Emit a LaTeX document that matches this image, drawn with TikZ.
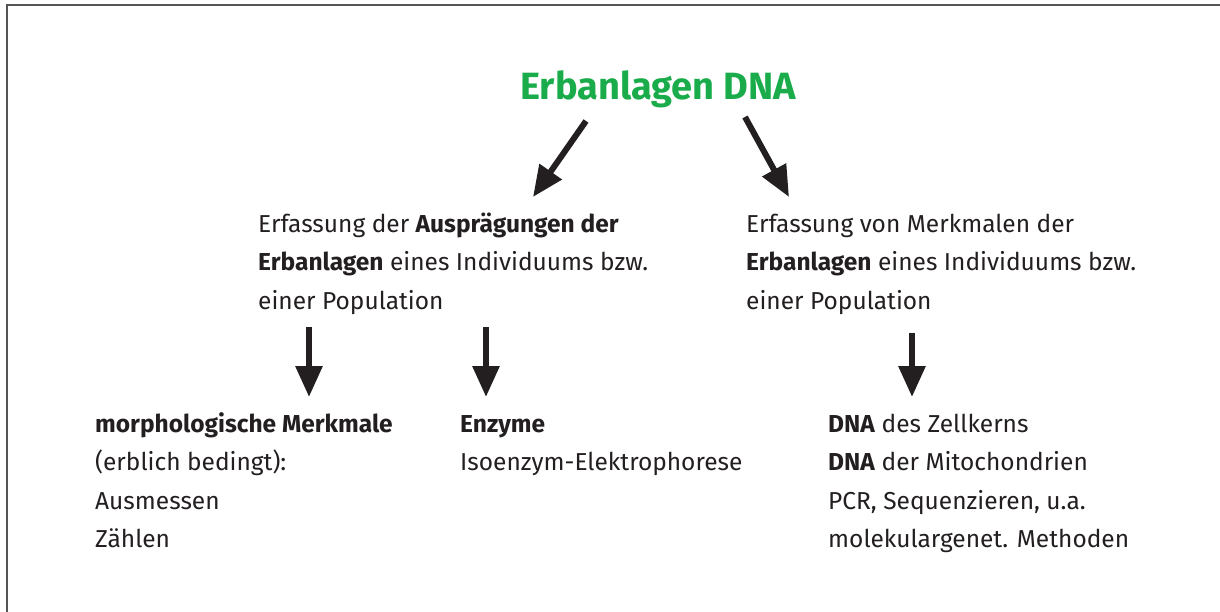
\documentclass[tikz,border=0pt]{standalone}
\usepackage{fontspec}
\setmainfont{Fira Sans}
\usetikzlibrary{arrows.meta}
\definecolor{ink}{HTML}{231F20}
\definecolor{dnagreen}{RGB}{26,172,75}
\definecolor{frame}{HTML}{555555}
\begin{document}
\begin{tikzpicture}[x=1pt,y=-1pt,
  txt/.style={anchor=base west,inner sep=0pt,align=left,text=ink,
    font=\fontsize{24.5}{38.6}\selectfont},
  bigarrow/.style={draw=ink,line width=6pt,-{Triangle[length=31pt,width=26pt]}}]
\useasboundingbox (0,0) rectangle (1220,612);
\draw[frame,line width=2.2pt] (7,612) -- (7,5) -- (1220,5);
\node[anchor=base west,inner sep=0pt,text=dnagreen,font=\fontsize{38}{46}\selectfont\bfseries] (title) at (520,100) {Erbanlagen DNA};
% multi-line nodes: base anchor is the baseline of the last line
\node[txt] (midL) at (258,309.2) {Erfassung der \textbf{Ausprägungen der}\\\textbf{Erbanlagen} eines Individuums bzw.\\einer Population};
\node[txt] (midR) at (746,309.2) {Erfassung von Merkmalen der\\\textbf{Erbanlagen} eines Individuums bzw.\\einer Population};
\node[txt] (botL) at (95,547.8) {\textbf{morphologische Merkmale}\\(erblich bedingt):\\Ausmessen\\Zählen};
\node[txt] (botM) at (460,470.6) {\textbf{Enzyme}\\Isoenzym-Elektrophorese};
\node[txt] (botR) at (828,547.8) {\textbf{DNA} des Zellkerns\\\textbf{DNA} der Mitochondrien\\PCR, Sequenzieren, u.a.\\molekulargenet. Methoden};
\coordinate (a1s) at (586,121); \coordinate (a1e) at (533,197);
\coordinate (a2s) at (745,117); \coordinate (a2e) at (789,197);
\coordinate (a3s) at (309,327); \coordinate (a3e) at (309,397);
\coordinate (a4s) at (486,327); \coordinate (a4e) at (486,397);
\coordinate (a5s) at (912,333); \coordinate (a5e) at (912,397);
\draw[bigarrow] (a1s) -- (a1e);
\draw[bigarrow] (a2s) -- (a2e);
\draw[bigarrow] (a3s) -- (a3e);
\draw[bigarrow] (a4s) -- (a4e);
\draw[bigarrow] (a5s) -- (a5e);
\end{tikzpicture}
\end{document}
